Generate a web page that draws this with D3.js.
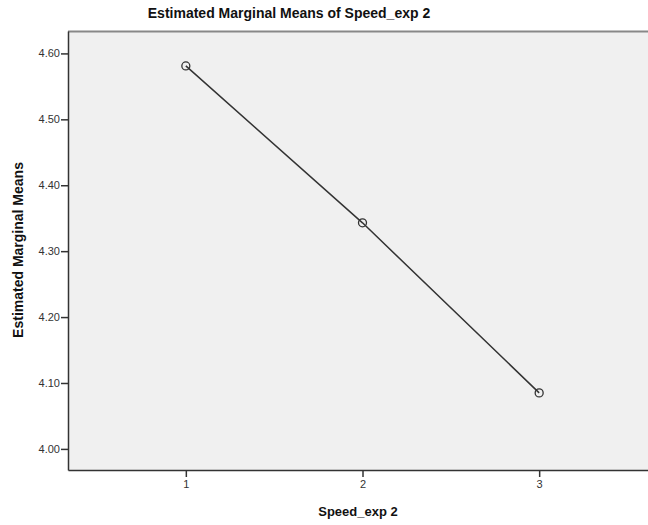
<!DOCTYPE html>
<html><head><meta charset="utf-8">
<script src="https://cdn.jsdelivr.net/npm/d3@7"></script>
<style>body{margin:0;background:#fff}svg{display:block}</style>
</head><body>
<script>
const categories = [1, 2, 3];
const means = [4.581, 4.343, 4.085];
const yTicks = [4.00, 4.10, 4.20, 4.30, 4.40, 4.50, 4.60];
const title = "Estimated Marginal Means of Speed_exp 2";
const xTitle = "Speed_exp 2";
const yTitle = "Estimated Marginal Means";

const W = 648, H = 525;
const m = {left: 68, top: 31, right: 657, bottom: 470};
const svg = d3.select("body").append("svg").attr("width", W).attr("height", H);

const x = d3.scaleLinear().domain([1 - 0.667, 3 + 0.667]).range([m.left, m.right]);
const y = d3.scaleLinear().domain([3.968, 4.634]).range([m.bottom, m.top]);

svg.append("rect").attr("x", m.left).attr("y", m.top)
  .attr("width", m.right - m.left).attr("height", m.bottom - m.top).attr("fill", "#f0f0f0");
svg.append("line").attr("x1", m.left).attr("x2", m.right).attr("y1", m.top + 0.5).attr("y2", m.top + 0.5)
  .attr("stroke", "#888").attr("stroke-width", 2);

const font = "Arial, 'Liberation Sans', sans-serif";
const yAxis = d3.axisLeft(y).tickValues(yTicks).tickFormat(d3.format(".2f")).tickSize(7).tickSizeOuter(0);
const gy = svg.append("g").attr("transform", `translate(${m.left},0)`).call(yAxis);
const xAxis = d3.axisBottom(x).tickValues(categories).tickFormat(d3.format("d")).tickSize(7).tickSizeOuter(0);
const gx = svg.append("g").attr("transform", `translate(0,${m.bottom})`).call(xAxis);
[gy, gx].forEach(g => {
  g.select(".domain").attr("stroke", "#333").attr("stroke-width", 1.5);
  g.selectAll(".tick line").attr("stroke", "#333").attr("stroke-width", 1.5);
  g.selectAll(".tick text").attr("fill", "#333").style("font-family", font).style("font-size", "11px");
});
gy.selectAll(".tick text").attr("x", -8);
gx.selectAll(".tick text").attr("y", 10);

const line = d3.line().x((d, i) => x(categories[i])).y(d => y(d));
svg.append("path").datum(means).attr("d", line).attr("fill", "none")
  .attr("stroke", "#333").attr("stroke-width", 1.5);
svg.selectAll("circle.pt").data(means).join("circle").attr("class", "pt")
  .attr("cx", (d, i) => x(categories[i])).attr("cy", d => y(d)).attr("r", 4)
  .attr("fill", "none").attr("stroke", "#333").attr("stroke-width", 1.3);

svg.append("text").attr("x", 289).attr("y", 18).attr("text-anchor", "middle")
  .style("font-family", font).style("font-size", "14px").style("font-weight", "bold").attr("fill", "#111").text(title);
svg.append("text").attr("x", 358).attr("y", 516).attr("text-anchor", "middle")
  .style("font-family", font).style("font-size", "13px").style("font-weight", "bold").attr("fill", "#111").text(xTitle);
svg.append("text").attr("transform", `translate(23,250) rotate(-90)`).attr("text-anchor", "middle")
  .style("font-family", font).style("font-size", "14px").style("font-weight", "bold").attr("fill", "#111").text(yTitle);
</script>
</body></html>
